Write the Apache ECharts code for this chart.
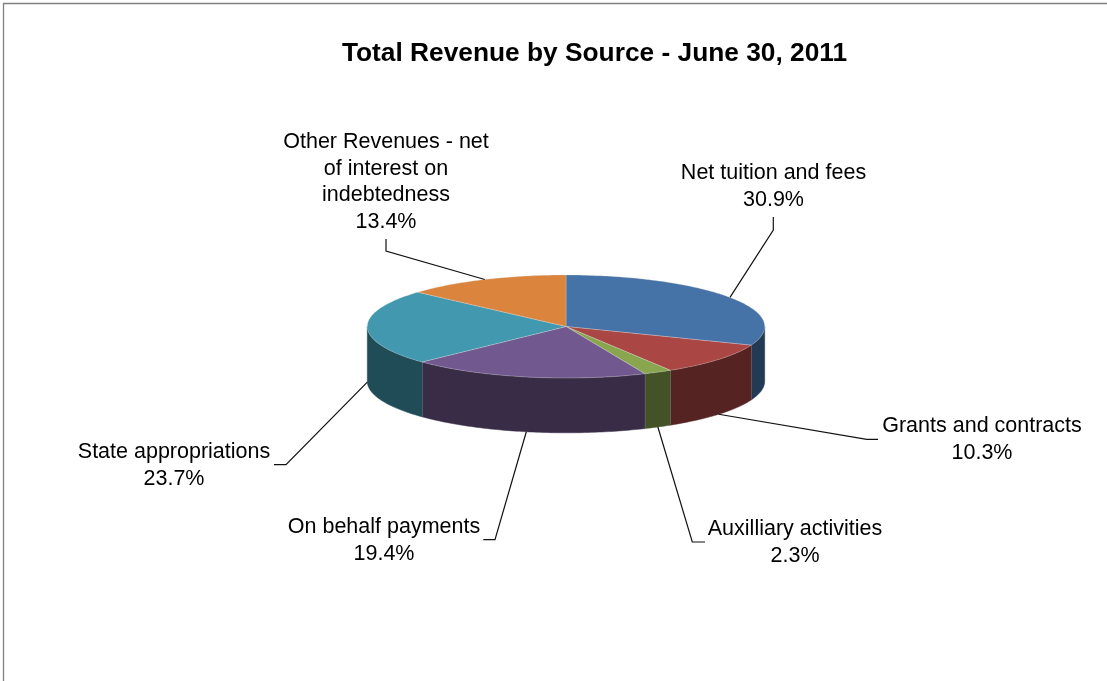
<!DOCTYPE html>
<html>
<head>
<meta charset="utf-8">
<style>html,body{margin:0;padding:0;background:#fff}#c{width:1107px;height:681px}</style>
<script src="https://cdn.jsdelivr.net/npm/echarts@6/dist/echarts.min.js"></script>
</head>
<body>
<div id="c"></div>
<script>
const categories = ['Net tuition and fees', 'Grants and contracts', 'Auxilliary activities', 'On behalf payments', 'State appropriations', 'Other Revenues - net\nof interest on\nindebtedness'];
const shares = [30.9, 10.3, 2.3, 19.4, 23.7, 13.4];
const topColors = ['#4572A7', '#AA4643', '#89A54E', '#71588F', '#4198AF', '#DB843D'];
const wallColors = ['#233A55', '#552321', '#445227', '#392C47', '#204C58', '#6E421E'];

// Layout of the tilted disc
const disc = { cx: 566, cy: 326.5, rx: 198.7, ry: 51.5, depth: 54.8 };
// Where each callout's leader bends and ends, and where its label sits
const leaderBends = [[[773.3, 230], [773.3, 217]], [[866.7, 439.3], [878, 439.3]], [[692.3, 542], [705, 542]], [[495, 539.7], [483.3, 539.7]], [[286, 464.7], [274, 464.7]], [[386, 251], [386, 239]]];
const labelCentres = [[773.5, 186.5], [982, 439.5], [795, 542.5], [384, 540.5], [174, 465.5], [386, 182]];
const labelFont = 'normal 21.5px "Liberation Sans", Arial, sans-serif';
const lineGap = 26.6;

const total = shares.reduce((a, b) => a + b, 0);
const rad = d => d * Math.PI / 180;
const rim = (deg, drop) => [disc.cx + disc.rx * Math.sin(rad(deg)), disc.cy - disc.ry * Math.cos(rad(deg)) + (drop || 0)];
function arc(from, to, drop) {
  const pts = [];
  const n = Math.max(2, Math.ceil(Math.abs(to - from)));
  for (let i = 0; i <= n; i++) pts.push(rim(from + (to - from) * i / n, drop));
  return pts;
}
function startAngle(i) {
  let s = 0;
  for (let k = 0; k < i; k++) s += shares[k];
  return s / total * 360;
}

function renderWall(params, api) {
  const i = params.dataIndex;
  const a0 = startAngle(i), a1 = a0 + api.value(0) / total * 360;
  const from = Math.max(a0, 90), to = Math.min(a1, 270);
  if (to <= from) return { type: 'group', children: [] };
  const points = arc(from, to, 0).concat(arc(to, from, disc.depth));
  const children = [{
    type: 'polygon', shape: { points: points },
    style: { fill: wallColors[i], stroke: wallColors[i], lineWidth: 0.5 }
  }];
  if (a1 > 90 && a1 < 270) {
    children.push({
      type: 'line',
      shape: { x1: rim(a1, 0)[0], y1: rim(a1, 0)[1], x2: rim(a1, disc.depth)[0], y2: rim(a1, disc.depth)[1] },
      style: { stroke: 'rgba(190,190,190,0.65)', lineWidth: 1 }
    });
  }
  return { type: 'group', children: children };
}

function renderTop(params, api) {
  const i = params.dataIndex;
  const a0 = startAngle(i), a1 = a0 + api.value(0) / total * 360;
  const points = [[disc.cx, disc.cy]].concat(arc(a0, a1, 0));
  return {
    type: 'polygon', shape: { points: points },
    style: { fill: topColors[i], stroke: 'rgba(225,225,225,0.4)', lineWidth: 0.75, lineJoin: 'round' }
  };
}

function renderCallout(params, api) {
  const i = params.dataIndex;
  const v = api.value(0);
  const mid = startAngle(i) + v / total * 180;
  const onWall = mid > 90 && mid < 270;
  const start = rim(mid, onWall ? disc.depth : 0);
  const text = categories[i] + '\n' + v.toFixed(1) + '%';
  return {
    type: 'group',
    children: [{
      type: 'polyline',
      shape: { points: [start].concat(leaderBends[i]) },
      style: { fill: null, stroke: '#111', lineWidth: 1.2 }
    }, {
      type: 'text',
      style: {
        text: text, x: labelCentres[i][0], y: labelCentres[i][1],
        align: 'center', verticalAlign: 'middle',
        font: labelFont, lineHeight: lineGap, fill: '#000'
      }
    }]
  };
}

const chart = echarts.init(document.getElementById('c'), null, { renderer: 'canvas' });
chart.setOption({
  animation: false,
  backgroundColor: '#fff',
  title: {
    text: 'Total Revenue by Source - June 30, 2011',
    left: 589.5, top: 49, textAlign: 'center', textVerticalAlign: 'middle',
    textStyle: { fontFamily: '"Liberation Sans", Arial, sans-serif', fontWeight: 'bold', fontSize: 26.3, color: '#000' }
  },
  graphic: [{
    type: 'rect', silent: true,
    shape: { x: 3.5, y: 3.5, width: 1300, height: 900 },
    style: { fill: null, stroke: '#808080', lineWidth: 1.3 }
  }],
  series: [
    { type: 'custom', coordinateSystem: 'none', renderItem: renderWall, data: shares, silent: true, z: 2 },
    { type: 'custom', coordinateSystem: 'none', renderItem: renderTop, data: shares, silent: true, z: 3 },
    { type: 'custom', coordinateSystem: 'none', renderItem: renderCallout, data: shares, silent: true, z: 4 }
  ]
});
</script>
</body>
</html>
